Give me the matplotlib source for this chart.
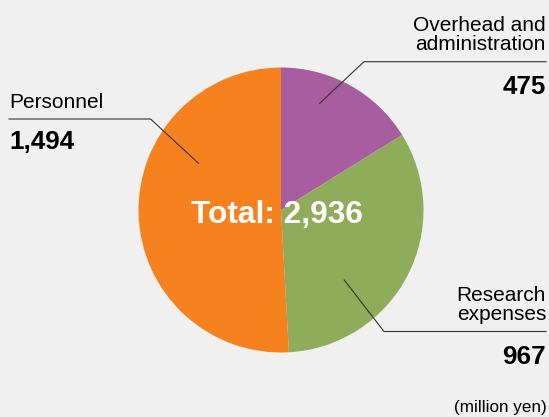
import matplotlib
matplotlib.use("Agg")
import matplotlib.pyplot as plt

labels = ["Overhead and\nadministration", "Research\nexpenses", "Personnel"]
values = [475, 967, 1494]
colors = ["#A85E9E", "#8FAC5B", "#F5821F"]
total = sum(values)
unit = "(million yen)"

plt.rcParams['font.family'] = ['Liberation Sans', 'DejaVu Sans']

W, H = 549, 417
fig = plt.figure(figsize=(W / 100, H / 100), dpi=100)
fig.patch.set_facecolor("#F0F0F0")

# pie: centre (281, 210) px, radius 142.5 px
cx, cy, r = 281, 210, 142.5
ax = fig.add_axes([(cx - r) / W, (H - cy - r) / H, 2 * r / W, 2 * r / H])
ax.pie(values, colors=colors, startangle=90, counterclock=False, radius=1,
       wedgeprops=dict(linewidth=0))
ax.set_xlim(-1, 1)
ax.set_ylim(-1, 1)
ax.set_aspect("auto")
ax.axis("off")

# overlay in pixel coords for labels and leader lines
ov = fig.add_axes([0, 0, 1, 1])
ov.set_xlim(0, W)
ov.set_ylim(H, 0)
ov.axis("off")
ov.patch.set_alpha(0)

ov.text(276.5, 222.7, f"Total: {total:,}", color="white", fontsize=22.8,
        fontweight="bold", ha="center", va="baseline")

lc = "#333333"
# overhead
ov.plot([546, 364, 319.7], [61.7, 61.7, 103.3], color=lc, lw=0.8)
ov.text(546, 50, labels[0], fontsize=15, ha="right", va="baseline",
        linespacing=1.0)
ov.text(546, 94, f"{values[0]:,}", fontsize=18.7, fontweight="bold",
        ha="right", va="baseline")

# research
ov.plot([546, 384, 344.2], [331.5, 331.5, 280], color=lc, lw=0.8)
ov.text(546, 320, labels[1], fontsize=15, ha="right", va="baseline",
        linespacing=1.0)
ov.text(546, 364, f"{values[1]:,}", fontsize=18.7, fontweight="bold",
        ha="right", va="baseline")

# personnel
ov.plot([9, 150.6, 198.5], [119, 119, 163.3], color=lc, lw=0.8)
ov.text(9.3, 108.3, labels[2], fontsize=15, ha="left", va="baseline")
ov.text(9.3, 149, f"{values[2]:,}", fontsize=18.7, fontweight="bold",
        ha="left", va="baseline")

ov.text(546.5, 411.7, unit, fontsize=12.3, ha="right", va="baseline")

fig.savefig("out.png", dpi=100, facecolor=fig.get_facecolor())
